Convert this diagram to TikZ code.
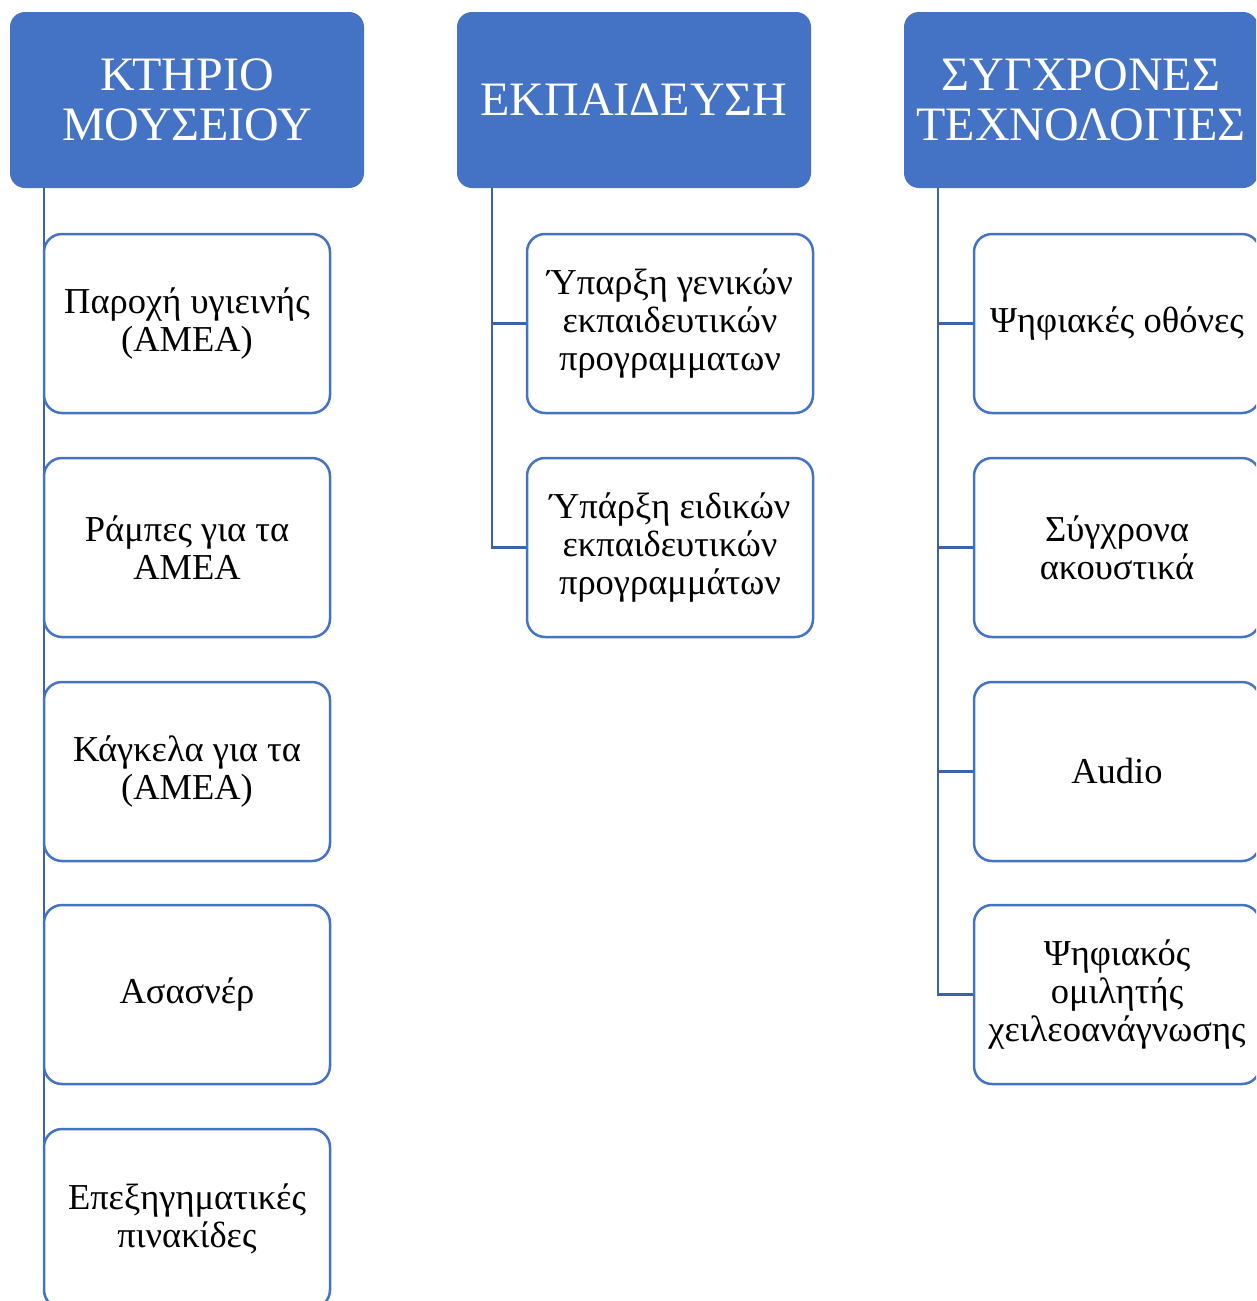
\documentclass[tikz,border=0pt]{standalone}
\usepackage{fontspec}
\setmainfont{Liberation Serif}
\usetikzlibrary{backgrounds}
\definecolor{accent}{HTML}{4472C4}
\definecolor{connc}{HTML}{3B62AA}
\tikzset{
  hdr/.style={fill=accent, draw=none, rounded corners=15pt, minimum width=354pt, minimum height=176pt,
    inner sep=0pt, text=white, align=center, font=\fontsize{48}{50}\selectfont},
  leaf/.style={fill=white, draw=accent, line width=2.5pt, rounded corners=18pt, minimum width=286pt,
    minimum height=179pt, inner sep=0pt, align=center, font=\fontsize{36.5}{38}\selectfont},
  conn/.style={draw=connc, line width=2.5pt}
}
\begin{document}
\begin{tikzpicture}[x=1pt,y=-1pt]
\useasboundingbox (0,0) rectangle (1256,1301);
\clip (0,0) rectangle (1256,1301);
% headers
\node[hdr] (h1) at (187,100) {ΚΤΗΡΙΟ\\ΜΟΥΣΕΙΟΥ};
\node[hdr] (h2) at (634,100) {ΕΚΠΑΙΔΕΥΣΗ};
\node[hdr] (h3) at (1081,100) {ΣΥΓΧΡΟΝΕΣ\\ΤΕΧΝΟΛΟΓΙΕΣ};
% column 1
\node[leaf] (a1) at (187,323.5) {Παροχή υγιεινής\\(ΑΜΕΑ)};
\node[leaf] (a2) at (187,547.5) {Ράμπες για τα\\ΑΜΕΑ};
\node[leaf] (a3) at (187,771.5) {Κάγκελα για τα\\(ΑΜΕΑ)};
\node[leaf] (a4) at (187,994.5) {Ασασνέρ};
\node[leaf] (a5) at (187,1218.5) {Επεξηγηματικές\\πινακίδες};
% column 2
\node[leaf] (b1) at (670,323.5) {Ύπαρξη γενικών\\εκπαιδευτικών\\προγραμματων};
\node[leaf] (b2) at (670,547.5) {Ύπάρξη ειδικών\\εκπαιδευτικών\\προγραμμάτων};
% column 3
\node[leaf] (c1) at (1117,323.5) {Ψηφιακές οθόνες};
\node[leaf] (c2) at (1117,547.5) {Σύγχρονα\\ακουστικά};
\node[leaf] (c3) at (1117,771.5) {Audio};
\node[leaf] (c4) at (1117,994.5) {Ψηφιακός\\ομιλητής\\χειλεοανάγνωσης};
% connector anchors
\coordinate (v1) at (44,188);
\coordinate (v2) at (492,188);
\coordinate (v3) at (938,188);
\begin{scope}[on background layer]
\draw[conn] (v1) -- (v1 |- a5.west) -- (a5.west);
\draw[conn] (v2) |- (b1.west);
\draw[conn] (v2) |- (b2.west);
\draw[conn] (v3) |- (c1.west);
\draw[conn] (v3) |- (c2.west);
\draw[conn] (v3) |- (c3.west);
\draw[conn] (v3) |- (c4.west);
\end{scope}
\end{tikzpicture}
\end{document}
